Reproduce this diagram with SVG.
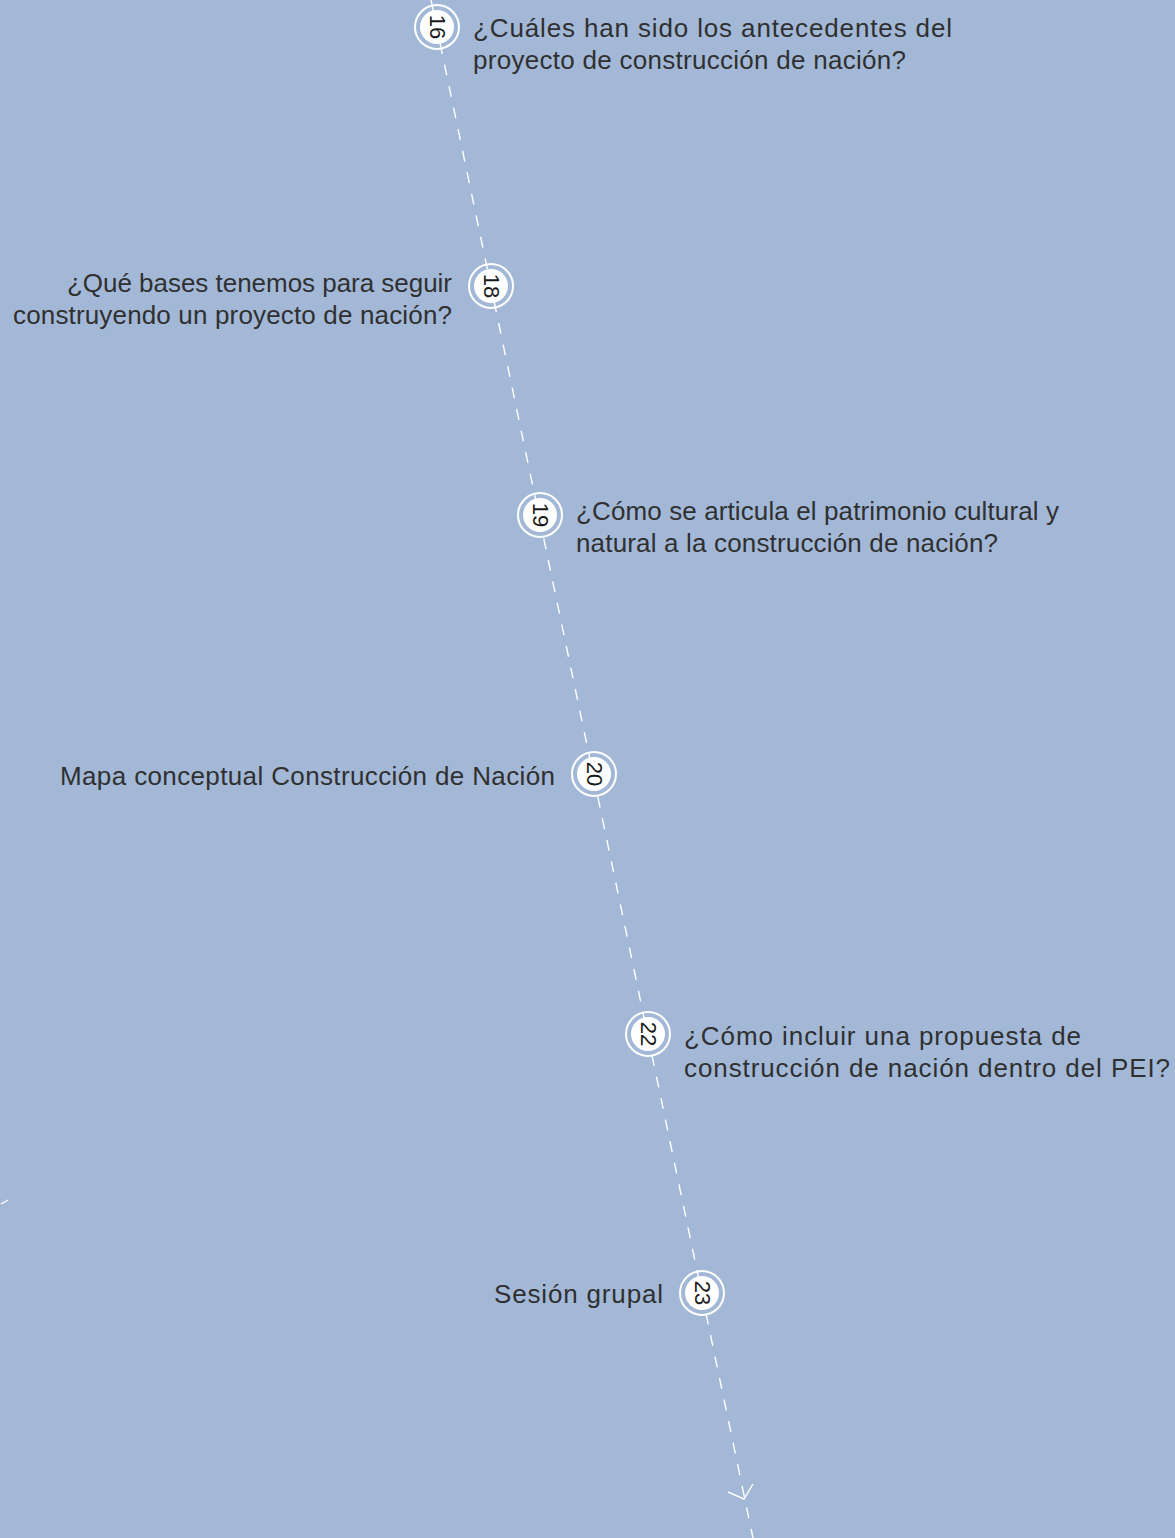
<svg xmlns="http://www.w3.org/2000/svg" width="1175" height="1538" viewBox="0 0 1175 1538">
<style>
.lbl{font-family:"Liberation Sans",Arial,sans-serif;font-size:26px;fill:#303030}
.num{font-family:"Liberation Sans",Arial,sans-serif;font-size:22px;fill:#1a1a1a;text-anchor:middle;dominant-baseline:central}
.ring{fill:none;stroke:#fff;stroke-width:2}
.disc{fill:#fff}
.conn{stroke:#fff;stroke-width:1.4;fill:none}
</style>
<rect width="1175" height="1538" fill="#a3b8d7"/>
<g id="connectors">
<line class="conn" x1="431" y1="0" x2="753" y2="1538" stroke-dasharray="11 11"/>
<polyline class="conn" points="728,1492 744,1499 753,1484" stroke-width="2"/>
<line class="conn" x1="1" y1="1204" x2="8" y2="1200" stroke-width="2"/>
</g>
<g id="n16">
<circle class="ring" cx="437" cy="27" r="22"/><circle class="disc" cx="437" cy="27" r="17"/>
<text class="num" transform="translate(437 27) rotate(90)">16</text>
<text class="lbl" x="473" y="37" textLength="479" lengthAdjust="spacing">¿Cuáles han sido los antecedentes del</text>
<text class="lbl" x="473" y="69" textLength="433" lengthAdjust="spacing">proyecto de construcción de nación?</text>
</g>
<g id="n18">
<circle class="ring" cx="491" cy="286" r="22"/><circle class="disc" cx="491" cy="286" r="17"/>
<text class="num" transform="translate(491 286) rotate(90)">18</text>
<text class="lbl" x="67" y="292" textLength="385" lengthAdjust="spacing">¿Qué bases tenemos para seguir</text>
<text class="lbl" x="13" y="324" textLength="439" lengthAdjust="spacing">construyendo un proyecto de nación?</text>
</g>
<g id="n19">
<circle class="ring" cx="540" cy="515" r="22"/><circle class="disc" cx="540" cy="515" r="17"/>
<text class="num" transform="translate(540 515) rotate(90)">19</text>
<text class="lbl" x="576" y="520" textLength="483" lengthAdjust="spacing">¿Cómo se articula el patrimonio cultural y</text>
<text class="lbl" x="576" y="552" textLength="422" lengthAdjust="spacing">natural a la construcción de nación?</text>
</g>
<g id="n20">
<circle class="ring" cx="594" cy="774" r="22"/><circle class="disc" cx="594" cy="774" r="17"/>
<text class="num" transform="translate(594 774) rotate(90)">20</text>
<text class="lbl" x="60" y="785" textLength="495" lengthAdjust="spacing">Mapa conceptual Construcción de Nación</text>
</g>
<g id="n22">
<circle class="ring" cx="648" cy="1034" r="22"/><circle class="disc" cx="648" cy="1034" r="17"/>
<text class="num" transform="translate(648 1034) rotate(90)">22</text>
<text class="lbl" x="684" y="1045" textLength="397" lengthAdjust="spacing">¿Cómo incluir una propuesta de</text>
<text class="lbl" x="684" y="1077" textLength="486" lengthAdjust="spacing">construcción de nación dentro del PEI?</text>
</g>
<g id="n23">
<circle class="ring" cx="702" cy="1293" r="22"/><circle class="disc" cx="702" cy="1293" r="17"/>
<text class="num" transform="translate(702 1293) rotate(90)">23</text>
<text class="lbl" x="494" y="1303" textLength="169" lengthAdjust="spacing">Sesión grupal</text>
</g>
</svg>
